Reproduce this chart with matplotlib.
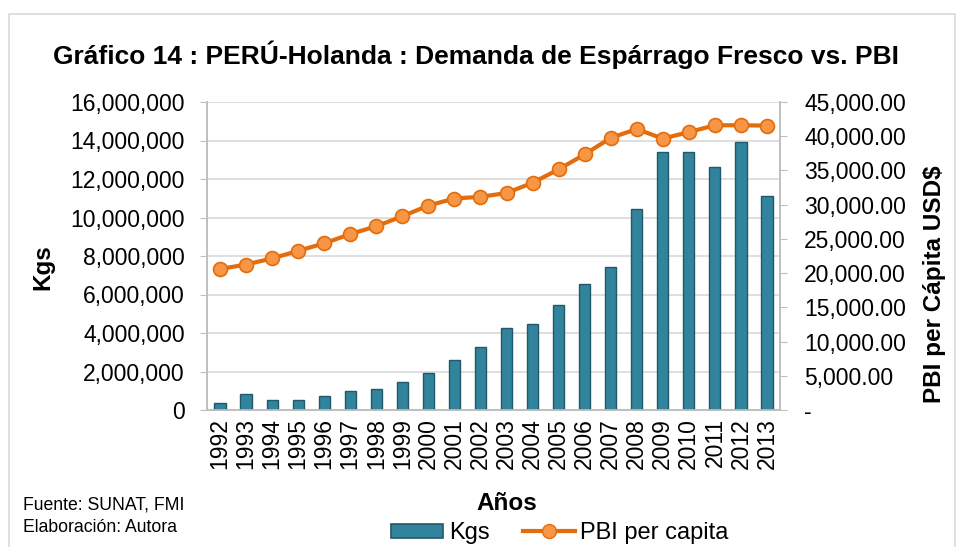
import matplotlib
matplotlib.use("Agg")
import matplotlib.pyplot as plt
from matplotlib.ticker import FuncFormatter, MultipleLocator
from matplotlib.patches import Rectangle
from matplotlib.lines import Line2D
from matplotlib import font_manager

years = [str(y) for y in range(1992, 2014)]
kgs = [380000, 830000, 520000, 520000, 730000, 1000000, 1090000, 1470000, 1900000,
       2610000, 3290000, 4270000, 4460000, 5430000, 6540000, 7440000, 10430000,
       13410000, 13410000, 12630000, 13910000, 11120000]
pbi = [20600, 21250, 22150, 23250, 24350, 25700, 26850, 28300, 29870, 30900,
       31150, 31700, 33200, 35150, 37350, 39750, 41050, 39650, 40600, 41600,
       41600, 41550]

plt.rcParams['font.family'] = ['Liberation Sans', 'DejaVu Sans']

W, H = 961, 547
fig = plt.figure(figsize=(9.61, 5.47), dpi=100)
ax = fig.add_axes([207 / W, 1 - 410 / H, (780 - 207) / W, (410 - 102) / H])
ax2 = ax.twinx()

x = list(range(len(years)))
ax.bar(x, kgs, width=0.43, color='#31849B', edgecolor='#215968', linewidth=1.0, zorder=3)
ax.set_ylim(0, 16000000)
ax.yaxis.set_major_locator(MultipleLocator(2000000))
ax.yaxis.set_major_formatter(FuncFormatter(lambda v, p: f"{int(v):,}"))
ax.grid(axis='y', color='#D9D9D9', linewidth=1.2, zorder=0)
ax.set_axisbelow(True)
ax.set_xlim(-0.5, len(years) - 0.5)
ax.set_xticks(x)
ax.set_xticklabels(years, rotation=90, fontsize=16.5)
ax.tick_params(axis='y', labelsize=16.5, length=5, color='#BFBFBF', pad=11)
ax.tick_params(axis='x', length=0, pad=6)

ax2.plot(x, pbi, color='#E46C0A', linewidth=3, marker='o', markersize=10,
         markerfacecolor='#F79646', markeredgecolor='#E46C0A', markeredgewidth=1.2, zorder=4)
ax2.set_ylim(0, 45000)
ax2.yaxis.set_major_locator(MultipleLocator(5000))
ax2.yaxis.set_major_formatter(FuncFormatter(lambda v, p: "-" if v == 0 else f"{v:,.2f}"))
ax2.tick_params(axis='y', labelsize=16.5, length=5, color='#BFBFBF', pad=12.5)

for a in (ax, ax2):
    for s in a.spines.values():
        s.set_color('#BFBFBF')
        s.set_linewidth(1.2)
    a.spines['top'].set_visible(False)

fig.text(43 / W, 1 - 267 / H, 'Kgs', rotation=90, ha='center', va='center',
         fontsize=17.5, fontweight='bold')
fig.text(935 / W, 1 - 284 / H, 'PBI per Cápita USD$', rotation=90, ha='center', va='center',
         fontsize=17.5, fontweight='bold')

fig.text(476 / W, 1 - 55 / H, 'Gráfico 14 : PERÚ-Holanda : Demanda de Espárrago Fresco vs. PBI',
         ha='center', va='center', fontsize=19, fontweight='bold')
fig.text(507 / W, 1 - 503 / H, 'Años', ha='center', va='center', fontsize=17.5, fontweight='bold')

names = {f.name for f in font_manager.fontManager.ttflist}
if 'Liberation Sans Narrow' in names:
    src_family, src_size = ['Liberation Sans Narrow', 'Liberation Sans'], 15.5
else:
    src_family, src_size = ['Liberation Sans', 'DejaVu Sans'], 12.7
fig.text(23 / W, 1 - 505 / H, 'Fuente: SUNAT, FMI', ha='left', va='center',
         fontsize=src_size, family=src_family)
fig.text(23 / W, 1 - 528 / H, 'Elaboración: Autora', ha='left', va='center',
         fontsize=src_size, family=src_family)

handles = [Rectangle((0, 0), 1, 1, facecolor='#31849B', edgecolor='#215968', linewidth=1.2),
           Line2D([], [], color='#E46C0A', linewidth=3, marker='o', markersize=10,
                  markerfacecolor='#F79646', markeredgecolor='#E46C0A')]
fig.legend(handles, ['Kgs', 'PBI per capita'], loc='center', bbox_to_anchor=(560 / W, 1 - 533 / H),
           ncol=2, frameon=False, fontsize=17, handlelength=2.2, handletextpad=0.25,
           columnspacing=1.4, borderpad=0, handleheight=0.55)

fig.patches.append(Rectangle((9 / W, -0.01), (955 - 9) / W, 1 - 14 / H + 0.01,
                             transform=fig.transFigure, fill=False,
                             edgecolor='#D9D9D9', linewidth=1.2))

fig.savefig('out.png', dpi=100)
